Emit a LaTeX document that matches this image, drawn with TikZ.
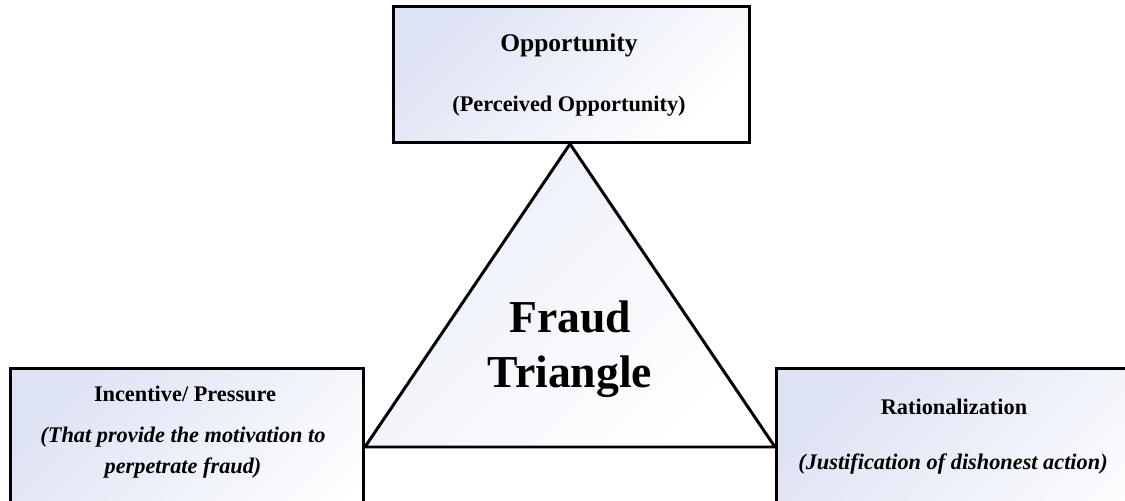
\documentclass[tikz,border=0pt]{standalone}
\usepackage{fontspec}
\setmainfont{Liberation Serif}
\usetikzlibrary{positioning}
\definecolor{boxtint}{RGB}{222,227,244}

\begin{document}
\begin{tikzpicture}[
  x=0.02cm, y=-0.02cm,
  factor/.style={draw=black, line width=1.7pt, inner sep=0pt,
    top color=boxtint, bottom color=white, shading angle=45},
  tri/.style={draw=black, line width=1.7pt, line join=miter,
    top color=boxtint!60, bottom color=white, shading angle=45},
  head/.style={font=\bfseries\fontsize{12.7}{15}\selectfont, inner sep=0pt},
  bighead/.style={font=\bfseries\fontsize{14.5}{17}\selectfont, inner sep=0pt},
  gloss/.style={font=\bfseries\itshape\fontsize{12.7}{17.6}\selectfont,
    align=center, inner sep=0pt},
  bigtitle/.style={font=\bfseries\fontsize{26}{31}\selectfont,
    align=center, inner sep=0pt},
]
  \useasboundingbox (0,0) rectangle (1125,500);
  \clip (0,0) rectangle (1125,500);

  % Boxes (the side boxes run off the bottom edge)
  \node[factor, anchor=north west, minimum width=7.12cm, minimum height=2.72cm]
    (opp) at (392,5) {};
  \node[factor, anchor=north west, minimum width=7.06cm, minimum height=4cm]
    (inc) at (9,367) {};
  \node[factor, anchor=north west, minimum width=8cm, minimum height=4cm]
    (rat) at (775,367) {};

  % Triangle between the boxes
  \coordinate (basemid) at (570,447);
  \coordinate (apex) at (opp.south -| basemid);
  \coordinate (baseL) at (inc.east |- basemid);
  \coordinate (baseR) at (rat.west |- basemid);
  \path[tri] (apex) -- (baseL) -- (baseR) -- cycle;

  % Box texts
  \node[bighead, anchor=base] (oppT) at (569,52) {Opportunity};
  \node[head, anchor=base] (oppS) at (569,112) {(Perceived Opportunity)};
  \node[head, anchor=base] (incT) at (185,401) {Incentive/ Pressure};
  \node[gloss] (incS) at (183,453)
    {(That provide the motivation to\\perpetrate fraud)};
  \node[head, anchor=base] (ratT) at (954,414) {Rationalization};
  \node[gloss, anchor=base] (ratS) at (953,469)
    {(Justification of dishonest action)};

  % Centre label
  \node[bigtitle] (fraud) at (570,349) {Fraud\\Triangle};
\end{tikzpicture}
\end{document}
